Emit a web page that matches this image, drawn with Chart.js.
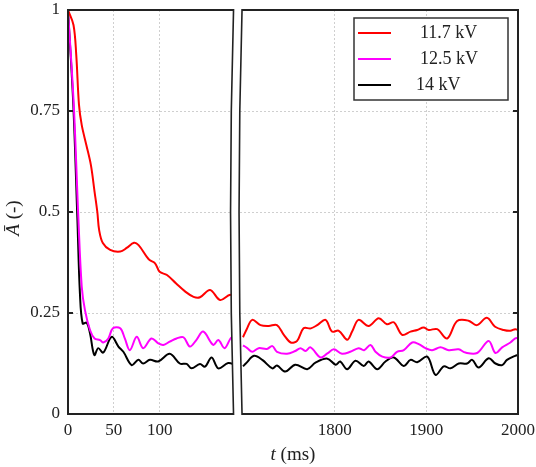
<!DOCTYPE html>
<html>
<head>
<meta charset="utf-8">
<script src="https://cdn.jsdelivr.net/npm/chart.js@4.4.0/dist/chart.umd.min.js"></script>
<style>
  html, body { margin: 0; padding: 0; background: #fff; }
  #wrap { width: 536px; height: 467px; }
</style>
</head>
<body>
<div id="wrap"><canvas id="chart" width="536" height="467"></canvas></div>
<script>
// broken time axis: 0..185 ms, then 1694..2000 ms
const leftMin = 0, leftMax = 185;
const rightMin = 1694, rightMax = 2000;
const leftTicks = [0, 50, 100];
const rightTicks = [1800, 1900, 2000];
const yTicks = [0, 0.25, 0.5, 0.75, 1];

const seriesLabels = ['11.7 kV', '12.5 kV', '14 kV'];
const seriesColors = ['#ff0000', '#ff00ff', '#000000'];

// 11.7 kV
const redEarlyT = [0, 6, 9, 12, 15, 20, 25, 29, 32, 34, 38, 46, 57, 64, 72, 77, 86, 89, 95, 100, 108, 118, 128, 137, 144, 155, 166, 177, 183];
const redEarlyV = [1, 0.963, 0.889, 0.765, 0.715, 0.666, 0.616, 0.55, 0.5, 0.455, 0.423, 0.406, 0.402, 0.411, 0.424, 0.418, 0.389, 0.381, 0.373, 0.352, 0.344, 0.323, 0.303, 0.29, 0.289, 0.307, 0.282, 0.295, 0.284];
const redLateT = [1700, 1704, 1710, 1719, 1728, 1737, 1744.5, 1752, 1759, 1766, 1774, 1781, 1790, 1797, 1804.5, 1813.6, 1819, 1826, 1837, 1848, 1857, 1864.5, 1873.6, 1882.7, 1890, 1897, 1902.6, 1911.8, 1922.7, 1933.6, 1946, 1955, 1966, 1975, 1984.4, 1991.7, 1997, 2000];
const redLateV = [0.19, 0.21, 0.233, 0.22, 0.218, 0.22, 0.196, 0.177, 0.181, 0.212, 0.212, 0.22, 0.233, 0.204, 0.206, 0.184, 0.204, 0.233, 0.218, 0.237, 0.222, 0.227, 0.196, 0.204, 0.208, 0.214, 0.208, 0.21, 0.187, 0.23, 0.231, 0.22, 0.238, 0.216, 0.208, 0.206, 0.21, 0.208];

// 12.5 kV
const magEarlyT = [0, 6.3, 11.3, 15, 18.5, 24, 29, 35, 38.5, 44, 49, 57, 62, 67.5, 75, 82, 91, 98.5, 104, 111, 118.5, 126, 133, 140, 147.5, 158.5, 164, 171, 178.5, 183];
const magEarlyV = [1, 0.765, 0.485, 0.315, 0.257, 0.208, 0.187, 0.183, 0.177, 0.187, 0.212, 0.212, 0.187, 0.158, 0.191, 0.163, 0.187, 0.175, 0.171, 0.179, 0.187, 0.19, 0.167, 0.183, 0.204, 0.171, 0.183, 0.163, 0.19, 0.179];
const magLateT = [1700, 1704.6, 1710, 1717, 1726, 1732, 1737, 1748, 1757, 1762.7, 1768, 1773.6, 1784.5, 1792, 1799, 1808, 1817, 1826, 1832, 1839, 1844.5, 1852, 1861, 1868, 1875.4, 1884.5, 1891.7, 1899, 1906.3, 1915.4, 1924.4, 1935.3, 1942.6, 1955.4, 1968, 1975.4, 1982.7, 1991.7, 1997, 2000];
const magLateV = [0.17, 0.163, 0.154, 0.163, 0.161, 0.168, 0.154, 0.149, 0.156, 0.163, 0.156, 0.165, 0.14, 0.15, 0.16, 0.149, 0.154, 0.163, 0.158, 0.171, 0.154, 0.142, 0.14, 0.154, 0.158, 0.177, 0.173, 0.163, 0.158, 0.165, 0.158, 0.16, 0.152, 0.151, 0.181, 0.151, 0.165, 0.177, 0.187, 0.188];

// 14 kV
const blkEarlyT = [0, 5.8, 10.2, 13, 16, 20.4, 24, 28.7, 33, 38.5, 47.6, 55, 60.4, 69.5, 76.7, 82, 89.4, 98.5, 111, 122, 129.5, 134.8, 144, 149.4, 156.7, 164, 174.8, 183];
const blkEarlyV = [1, 0.765, 0.485, 0.299, 0.224, 0.226, 0.2, 0.146, 0.163, 0.152, 0.191, 0.167, 0.154, 0.121, 0.134, 0.125, 0.134, 0.13, 0.149, 0.125, 0.124, 0.113, 0.124, 0.117, 0.14, 0.113, 0.126, 0.121];
const blkLateT = [1700, 1703, 1712, 1721, 1732, 1737, 1746, 1757, 1770, 1779, 1792, 1801, 1806, 1813.6, 1822.7, 1831.7, 1837, 1846.4, 1855.4, 1864.5, 1875.4, 1882.7, 1890, 1901, 1910, 1919, 1926.3, 1935.3, 1944.5, 1950, 1957, 1968, 1975.4, 1982.7, 1988, 1997, 2000];
const blkLateV = [0.118, 0.125, 0.144, 0.134, 0.113, 0.12, 0.105, 0.122, 0.111, 0.127, 0.137, 0.122, 0.13, 0.111, 0.132, 0.119, 0.13, 0.111, 0.13, 0.14, 0.119, 0.134, 0.128, 0.142, 0.097, 0.118, 0.113, 0.125, 0.125, 0.134, 0.115, 0.138, 0.125, 0.121, 0.134, 0.144, 0.146];

const earlyT = [redEarlyT, magEarlyT, blkEarlyT];
const earlyV = [redEarlyV, magEarlyV, blkEarlyV];
const lateT = [redLateT, magLateT, blkLateT];
const lateV = [redLateV, magLateV, blkLateV];

const serif = '"Liberation Serif", "DejaVu Serif", serif';
const ink = '#222';

function points(ts, vs) {
  return ts.map((t, i) => ({ x: t, y: vs[i] }));
}

const datasets = [];
seriesLabels.forEach((label, i) => {
  datasets.push({
    label: label, data: points(earlyT[i], earlyV[i]), xAxisID: 'x',
    borderColor: seriesColors[i], borderWidth: 2, pointRadius: 0, tension: 0.35, fill: false
  });
  datasets.push({
    label: label, data: points(lateT[i], lateV[i]), xAxisID: 'x2',
    borderColor: seriesColors[i], borderWidth: 2, pointRadius: 0, tension: 0.35, fill: false
  });
});

// no extra room for overflowing tick labels, the layout padding decides
function noLabelPadding(s) {
  s.paddingTop = 0; s.paddingBottom = 0; s.paddingLeft = 0; s.paddingRight = 0;
}

// frame, inward ticks, axis break, legend and axis titles
const decorations = {
  id: 'decorations',
  afterDatasetsDraw(chart) {
    const { ctx, chartArea: a, scales } = chart;
    ctx.save();

    ctx.strokeStyle = ink;
    ctx.lineWidth = 2;
    ctx.strokeRect(a.left, a.top, a.right - a.left, a.bottom - a.top);

    yTicks.forEach(v => {
      const py = scales.y.getPixelForValue(v);
      ctx.beginPath();
      ctx.moveTo(a.left, py); ctx.lineTo(a.left + 5, py);
      ctx.moveTo(a.right, py); ctx.lineTo(a.right - 5, py);
      ctx.stroke();
    });

    // break marks
    const bx = scales.x.right;
    const top = a.top - 1, bot = a.bottom + 1, mid = (top + bot) / 2;
    const l = bx - 4, r = bx + 4.5, bow = 6;
    ctx.beginPath();
    ctx.moveTo(l, top); ctx.quadraticCurveTo(l - bow, mid, l, bot);
    ctx.lineTo(r, bot); ctx.quadraticCurveTo(r - bow, mid, r, top);
    ctx.closePath();
    ctx.fillStyle = '#fff';
    ctx.fill();
    ctx.lineWidth = 1.6;
    ctx.strokeStyle = ink;
    ctx.beginPath();
    ctx.moveTo(l, top); ctx.quadraticCurveTo(l - bow, mid, l, bot);
    ctx.moveTo(r, top); ctx.quadraticCurveTo(r - bow, mid, r, bot);
    ctx.stroke();

    // legend
    const lx = 354, ly = 18, lw = 154, lh = 82;
    ctx.fillStyle = '#fff';
    ctx.fillRect(lx, ly, lw, lh);
    ctx.lineWidth = 1.5;
    ctx.strokeStyle = '#333';
    ctx.strokeRect(lx, ly, lw, lh);
    ctx.font = '18px ' + serif;
    ctx.textBaseline = 'middle';
    ctx.textAlign = 'left';
    seriesLabels.forEach((label, i) => {
      const yy = ly + 15 + i * 26;
      ctx.strokeStyle = seriesColors[i];
      ctx.lineWidth = 2;
      ctx.beginPath(); ctx.moveTo(lx + 4, yy); ctx.lineTo(lx + 37, yy); ctx.stroke();
      ctx.fillStyle = ink;
      ctx.fillText(label, i === 2 ? lx + 62 : lx + 66, yy);
    });

    // x title
    const cx = (a.left + a.right) / 2;
    ctx.fillStyle = ink;
    ctx.textBaseline = 'middle';
    ctx.font = 'italic 19px ' + serif;
    const tW = ctx.measureText('t').width;
    ctx.font = '19px ' + serif;
    const msW = ctx.measureText(' (ms)').width;
    let sx = cx - (tW + msW) / 2;
    ctx.font = 'italic 19px ' + serif;
    ctx.fillText('t', sx, 455);
    ctx.font = '19px ' + serif;
    ctx.fillText(' (ms)', sx + tW, 455);

    // y title
    ctx.translate(14, 218);
    ctx.rotate(-Math.PI / 2);
    ctx.font = 'italic 19px ' + serif;
    const aW = ctx.measureText('Ā').width;
    ctx.font = '19px ' + serif;
    const uW = ctx.measureText(' (-)').width;
    sx = -(aW + uW) / 2;
    ctx.font = 'italic 19px ' + serif;
    ctx.fillText('Ā', sx, 0);
    ctx.font = '19px ' + serif;
    ctx.fillText(' (-)', sx + aW, 0);

    ctx.restore();
  }
};

const tickFont = { family: serif, size: 17 };
const gridStyle = { color: '#cfcfcf', lineWidth: 1, drawTicks: false };
const plainLabel = v => String(v);

new Chart(document.getElementById('chart').getContext('2d'), {
  type: 'line',
  data: { datasets },
  options: {
    responsive: false,
    animation: false,
    devicePixelRatio: 1,
    layout: { padding: { left: 0, right: 18, top: 10, bottom: 0 } },
    scales: {
      x: {
        type: 'linear', position: 'bottom',
        stack: 'time', stackWeight: leftMax - leftMin,
        min: leftMin, max: leftMax,
        afterBuildTicks: s => { s.ticks = leftTicks.map(v => ({ value: v })); },
        afterFit: s => { s.height = 53; noLabelPadding(s); },
        grid: gridStyle,
        border: { display: false, dash: [2, 2] },
        ticks: { font: tickFont, color: ink, padding: 6, maxRotation: 0, autoSkip: false, callback: plainLabel }
      },
      x2: {
        type: 'linear', position: 'bottom',
        stack: 'time', stackWeight: rightMax - rightMin,
        min: rightMin, max: rightMax,
        afterBuildTicks: s => { s.ticks = rightTicks.map(v => ({ value: v })); },
        afterFit: s => { s.height = 53; noLabelPadding(s); },
        grid: gridStyle,
        border: { display: false, dash: [2, 2] },
        ticks: { font: tickFont, color: ink, padding: 6, maxRotation: 0, autoSkip: false, callback: plainLabel }
      },
      y: {
        type: 'linear', position: 'left',
        min: 0, max: 1,
        afterBuildTicks: s => { s.ticks = yTicks.map(v => ({ value: v })); },
        afterFit: s => { s.width = 68; noLabelPadding(s); },
        grid: gridStyle,
        border: { display: false, dash: [2, 2] },
        ticks: { font: tickFont, color: ink, padding: 8, callback: plainLabel }
      }
    },
    plugins: {
      legend: { display: false },
      tooltip: { enabled: false }
    }
  },
  plugins: [decorations]
});
</script>
</body>
</html>
